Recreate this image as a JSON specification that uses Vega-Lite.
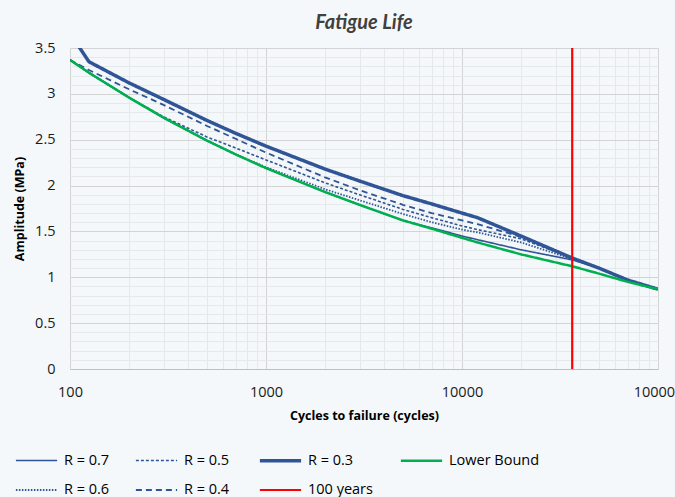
{
  "$schema": "https://vega.github.io/schema/vega-lite/v6.json",
  "width": 588,
  "height": 321,
  "autosize": {"type": "none"},
  "padding": {"left": 70, "top": 48, "right": 17, "bottom": 128},
  "background": "#f5f8fa",
  "config": {"view": {"stroke": null}, "font": "Open Sans"},
  "title": {"text": "Fatigue Life", "font": "Lato", "fontSize": 20, "fontStyle": "italic", "fontWeight": "bold", "color": "#404040", "anchor": "middle", "offset": 7},
  "datasets": {
    "curves": [
      {"series": "R = 0.7", "N": 100, "A": 3.37}, {"series": "R = 0.7", "N": 125, "A": 3.23}, {"series": "R = 0.7", "N": 200, "A": 2.96}, {"series": "R = 0.7", "N": 300, "A": 2.74}, {"series": "R = 0.7", "N": 500, "A": 2.49}, {"series": "R = 0.7", "N": 700, "A": 2.34}, {"series": "R = 0.7", "N": 1000, "A": 2.19}, {"series": "R = 0.7", "N": 2000, "A": 1.93}, {"series": "R = 0.7", "N": 3000, "A": 1.79}, {"series": "R = 0.7", "N": 5000, "A": 1.62}, {"series": "R = 0.7", "N": 7000, "A": 1.54}, {"series": "R = 0.7", "N": 10000, "A": 1.45}, {"series": "R = 0.7", "N": 12000, "A": 1.41}, {"series": "R = 0.7", "N": 20000, "A": 1.30}, {"series": "R = 0.7", "N": 36500, "A": 1.19}, {"series": "R = 0.7", "N": 50000, "A": 1.10}, {"series": "R = 0.7", "N": 70000, "A": 0.97}, {"series": "R = 0.7", "N": 100000, "A": 0.87},
      {"series": "R = 0.6", "N": 100, "A": 3.37}, {"series": "R = 0.6", "N": 125, "A": 3.23}, {"series": "R = 0.6", "N": 200, "A": 2.96}, {"series": "R = 0.6", "N": 300, "A": 2.74}, {"series": "R = 0.6", "N": 500, "A": 2.49}, {"series": "R = 0.6", "N": 700, "A": 2.34}, {"series": "R = 0.6", "N": 1000, "A": 2.20}, {"series": "R = 0.6", "N": 2000, "A": 1.96}, {"series": "R = 0.6", "N": 3000, "A": 1.84}, {"series": "R = 0.6", "N": 5000, "A": 1.69}, {"series": "R = 0.6", "N": 7000, "A": 1.60}, {"series": "R = 0.6", "N": 10000, "A": 1.52}, {"series": "R = 0.6", "N": 12000, "A": 1.49}, {"series": "R = 0.6", "N": 20000, "A": 1.38}, {"series": "R = 0.6", "N": 36500, "A": 1.20}, {"series": "R = 0.6", "N": 50000, "A": 1.10}, {"series": "R = 0.6", "N": 70000, "A": 0.97}, {"series": "R = 0.6", "N": 100000, "A": 0.87},
      {"series": "R = 0.5", "N": 100, "A": 3.37}, {"series": "R = 0.5", "N": 125, "A": 3.23}, {"series": "R = 0.5", "N": 200, "A": 2.96}, {"series": "R = 0.5", "N": 300, "A": 2.75}, {"series": "R = 0.5", "N": 500, "A": 2.53}, {"series": "R = 0.5", "N": 700, "A": 2.41}, {"series": "R = 0.5", "N": 1000, "A": 2.28}, {"series": "R = 0.5", "N": 2000, "A": 2.03}, {"series": "R = 0.5", "N": 3000, "A": 1.90}, {"series": "R = 0.5", "N": 5000, "A": 1.74}, {"series": "R = 0.5", "N": 7000, "A": 1.65}, {"series": "R = 0.5", "N": 10000, "A": 1.56}, {"series": "R = 0.5", "N": 12000, "A": 1.52}, {"series": "R = 0.5", "N": 20000, "A": 1.42}, {"series": "R = 0.5", "N": 36500, "A": 1.21}, {"series": "R = 0.5", "N": 50000, "A": 1.10}, {"series": "R = 0.5", "N": 70000, "A": 0.97}, {"series": "R = 0.5", "N": 100000, "A": 0.87},
      {"series": "R = 0.4", "N": 100, "A": 3.37}, {"series": "R = 0.4", "N": 125, "A": 3.26}, {"series": "R = 0.4", "N": 200, "A": 3.05}, {"series": "R = 0.4", "N": 300, "A": 2.88}, {"series": "R = 0.4", "N": 500, "A": 2.65}, {"series": "R = 0.4", "N": 700, "A": 2.51}, {"series": "R = 0.4", "N": 1000, "A": 2.36}, {"series": "R = 0.4", "N": 2000, "A": 2.09}, {"series": "R = 0.4", "N": 3000, "A": 1.95}, {"series": "R = 0.4", "N": 5000, "A": 1.79}, {"series": "R = 0.4", "N": 7000, "A": 1.70}, {"series": "R = 0.4", "N": 10000, "A": 1.62}, {"series": "R = 0.4", "N": 12000, "A": 1.58}, {"series": "R = 0.4", "N": 20000, "A": 1.44}, {"series": "R = 0.4", "N": 36500, "A": 1.21}, {"series": "R = 0.4", "N": 50000, "A": 1.10}, {"series": "R = 0.4", "N": 70000, "A": 0.97}, {"series": "R = 0.4", "N": 100000, "A": 0.87},
      {"series": "R = 0.3", "N": 100, "A": 3.66}, {"series": "R = 0.3", "N": 125, "A": 3.35}, {"series": "R = 0.3", "N": 200, "A": 3.12}, {"series": "R = 0.3", "N": 300, "A": 2.94}, {"series": "R = 0.3", "N": 500, "A": 2.71}, {"series": "R = 0.3", "N": 700, "A": 2.57}, {"series": "R = 0.3", "N": 1000, "A": 2.43}, {"series": "R = 0.3", "N": 2000, "A": 2.18}, {"series": "R = 0.3", "N": 3000, "A": 2.05}, {"series": "R = 0.3", "N": 5000, "A": 1.89}, {"series": "R = 0.3", "N": 7000, "A": 1.80}, {"series": "R = 0.3", "N": 10000, "A": 1.70}, {"series": "R = 0.3", "N": 12000, "A": 1.65}, {"series": "R = 0.3", "N": 20000, "A": 1.45}, {"series": "R = 0.3", "N": 36500, "A": 1.21}, {"series": "R = 0.3", "N": 50000, "A": 1.10}, {"series": "R = 0.3", "N": 70000, "A": 0.97}, {"series": "R = 0.3", "N": 100000, "A": 0.87},
      {"series": "Lower Bound", "N": 100, "A": 3.37}, {"series": "Lower Bound", "N": 125, "A": 3.23}, {"series": "Lower Bound", "N": 200, "A": 2.96}, {"series": "Lower Bound", "N": 300, "A": 2.74}, {"series": "Lower Bound", "N": 500, "A": 2.49}, {"series": "Lower Bound", "N": 700, "A": 2.34}, {"series": "Lower Bound", "N": 1000, "A": 2.19}, {"series": "Lower Bound", "N": 2000, "A": 1.93}, {"series": "Lower Bound", "N": 3000, "A": 1.79}, {"series": "Lower Bound", "N": 5000, "A": 1.62}, {"series": "Lower Bound", "N": 7000, "A": 1.53}, {"series": "Lower Bound", "N": 10000, "A": 1.43}, {"series": "Lower Bound", "N": 12000, "A": 1.38}, {"series": "Lower Bound", "N": 20000, "A": 1.25}, {"series": "Lower Bound", "N": 36500, "A": 1.12}, {"series": "Lower Bound", "N": 50000, "A": 1.04}, {"series": "Lower Bound", "N": 70000, "A": 0.95}, {"series": "Lower Bound", "N": 100000, "A": 0.87}
    ],
    "rule": [{"series": "100 years", "N": 36500}]
  },
  "layer": [
    {
      "data": {"name": "curves"},
      "mark": {"type": "line", "clip": true},
      "encoding": {
        "x": {
          "field": "N", "type": "quantitative",
          "scale": {"type": "log", "domain": [100, 100000]},
          "axis": {
            "title": "Cycles to failure (cycles)",
            "values": [100, 200, 300, 400, 500, 600, 700, 800, 900, 1000, 2000, 3000, 4000, 5000, 6000, 7000, 8000, 9000, 10000, 20000, 30000, 40000, 50000, 60000, 70000, 80000, 90000, 100000],
            "format": "d",
            "labelExpr": "(datum.value == 100 || datum.value == 1000 || datum.value == 10000 || datum.value == 100000) ? datum.label : ''",
            "labelOverlap": false, "labelFlush": false,
            "labelFont": "Open Sans", "labelFontSize": 14.5, "labelColor": "#1a1a1a", "labelPadding": 16,
            "ticks": false,
            "domainColor": "#bfbfbf",
            "grid": true,
            "gridColor": {"condition": {"test": "datum.value == 100 || datum.value == 1000 || datum.value == 10000 || datum.value == 100000", "value": "#d4d4d4"}, "value": "#e6e9eb"},
            "titleFont": "Open Sans", "titleFontSize": 12.5, "titleFontWeight": "bold", "titleColor": "#000000", "titlePadding": 11
          }
        },
        "y": {
          "field": "A", "type": "quantitative",
          "scale": {"domain": [0, 3.5], "nice": false, "zero": true},
          "axis": {
            "title": "Amplitude (MPa)",
            "values": [0, 0.1, 0.2, 0.3, 0.4, 0.5, 0.6, 0.7, 0.8, 0.9, 1, 1.1, 1.2, 1.3, 1.4, 1.5, 1.6, 1.7, 1.8, 1.9, 2, 2.1, 2.2, 2.3, 2.4, 2.5, 2.6, 2.7, 2.8, 2.9, 3, 3.1, 3.2, 3.3, 3.4, 3.5],
            "format": "~g",
            "labelExpr": "abs(datum.value*2 - round(datum.value*2)) < 0.001 ? datum.label : ''",
            "labelOverlap": false, "labelFlush": false,
            "labelFont": "Open Sans", "labelFontSize": 14.5, "labelColor": "#1a1a1a", "labelPadding": 15,
            "ticks": false, "domain": false,
            "grid": true,
            "gridColor": {"condition": {"test": "abs(datum.value*2 - round(datum.value*2)) < 0.001", "value": "#d4d4d4"}, "value": "#e6e9eb"},
            "titleFont": "Open Sans", "titleFontSize": 12.5, "titleFontWeight": "bold", "titleColor": "#000000", "titlePadding": 8
          }
        },
        "color": {
          "field": "series", "type": "nominal",
          "scale": {"domain": ["R = 0.7", "R = 0.5", "R = 0.3", "Lower Bound", "R = 0.6", "R = 0.4", "100 years"], "range": ["#2f5597", "#2f5597", "#2f5597", "#00b050", "#2f5597", "#2f5597", "#ff0000"]},
          "legend": {
            "orient": "none", "legendX": -56, "legendY": 390, "direction": "horizontal", "columns": 4, "title": null,
            "symbolType": "stroke", "symbolSize": 1700, "labelFont": "Open Sans", "labelFontSize": 14.5, "labelColor": "#000000",
            "columnPadding": 22, "rowPadding": -11, "labelOffset": 5, "padding": 0,
            "encode": {
              "symbols": {
                "update": {
                  "strokeDash": {"signal": "datum.value == 'R = 0.5' ? [3, 2] : datum.value == 'R = 0.6' ? [1.5, 1.5] : datum.value == 'R = 0.4' ? [6, 4] : [1, 0]"},
                  "strokeWidth": {"signal": "datum.value == 'R = 0.3' ? 3.5 : datum.value == 'Lower Bound' ? 2.5 : datum.value == '100 years' ? 2.2 : 1.7"}
                }
              }
            }
          }
        },
        "strokeDash": {
          "field": "series", "type": "nominal",
          "scale": {"domain": ["R = 0.7", "R = 0.5", "R = 0.3", "Lower Bound", "R = 0.6", "R = 0.4", "100 years"], "range": [[1, 0], [3, 2], [1, 0], [1, 0], [1.5, 1.5], [6, 4], [1, 0]]},
          "legend": null
        },
        "strokeWidth": {
          "field": "series", "type": "nominal",
          "scale": {"type": "ordinal", "domain": ["R = 0.7", "R = 0.5", "R = 0.3", "Lower Bound", "R = 0.6", "R = 0.4", "100 years"], "range": [1.6, 1.6, 3.5, 2.5, 1.8, 1.8, 2.2]},
          "legend": null
        }
      }
    },
    {
      "data": {"name": "rule"},
      "mark": {"type": "rule", "color": "#ff0000", "strokeWidth": 2.2},
      "encoding": {
        "x": {"field": "N", "type": "quantitative"},
        "color": {"field": "series", "type": "nominal"}
      }
    }
  ]
}
